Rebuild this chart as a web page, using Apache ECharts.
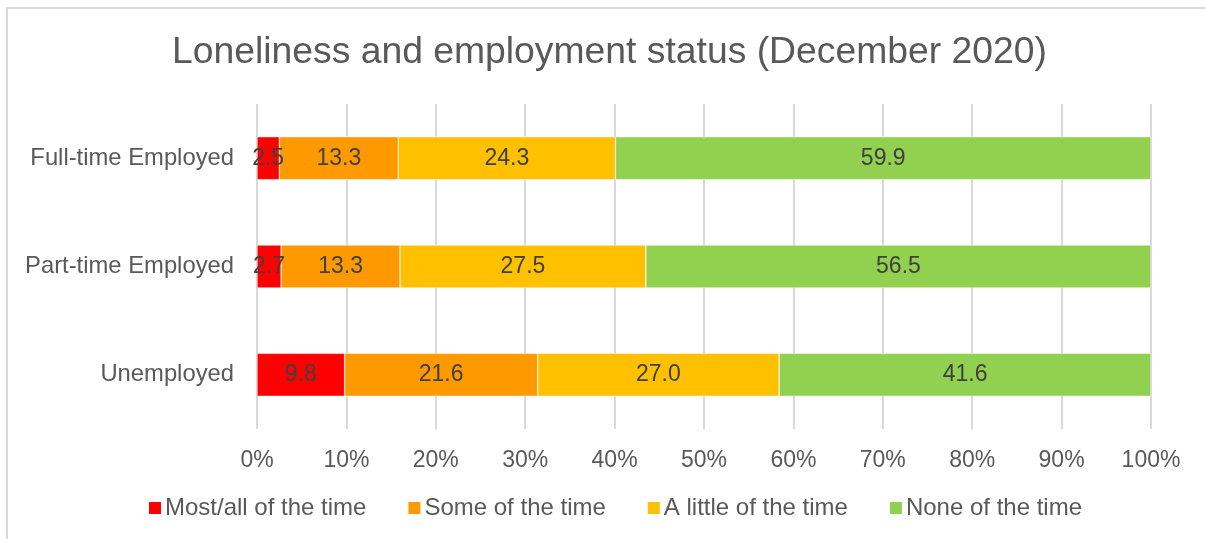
<!DOCTYPE html>
<html>
<head>
<meta charset="utf-8">
<script src="https://cdn.jsdelivr.net/npm/echarts@6/dist/echarts.min.js"></script>
<style>
html,body{margin:0;padding:0;background:#fff;}
#chart{width:1205px;height:539px;}
</style>
</head>
<body>
<div id="chart"></div>
<script>
const categories = ['Full-time Employed', 'Part-time Employed', 'Unemployed'];
const seriesNames = ['Most/all of the time', 'Some of the time', 'A little of the time', 'None of the time'];
const mostAll = [2.5, 2.7, 9.8];
const someTime = [13.3, 13.3, 21.6];
const littleTime = [24.3, 27.5, 27.0];
const noneTime = [59.9, 56.5, 41.6];
const xTicks = [0, 10, 20, 30, 40, 50, 60, 70, 80, 90, 100];
const colors = ['#FF0000', '#FF9900', '#FFC000', '#92D050'];

const font = '"Liberation Sans", Arial, sans-serif';
const chart = echarts.init(document.getElementById('chart'), null, {renderer: 'canvas'});
const values = [mostAll, someTime, littleTime, noneTime];

chart.setOption({
  animation: false,
  backgroundColor: '#fff',
  graphic: [{
    type: 'rect',
    shape: {x: 7, y: 8, width: 1220, height: 560},
    style: {fill: 'none', stroke: '#d9d9d9', lineWidth: 2},
    silent: true
  }],
  title: {
    text: 'Loneliness and employment status (December 2020)',
    left: 172,
    top: 34,
    padding: 0,
    textStyle: {fontFamily: font, fontSize: 37.3, fontWeight: 'normal', color: '#595959'}
  },
  legend: {
    data: seriesNames,
    bottom: 14,
    left: 142,
    itemWidth: 14,
    itemHeight: 14,
    itemGap: 40,
    icon: 'rect',
    textStyle: {fontFamily: font, fontSize: 24, color: '#595959', padding: [0, 0, 0, -2]}
  },
  grid: {left: 257, right: 54, top: 104, bottom: 110, containLabel: false},
  xAxis: {
    type: 'value',
    min: 0,
    max: 100,
    interval: 10,
    axisLine: {show: false},
    axisTick: {show: false},
    splitLine: {lineStyle: {color: '#d9d9d9', width: 2}},
    axisLabel: {
      fontFamily: font, fontSize: 23, color: '#595959', margin: 20,
      formatter: v => xTicks.includes(v) ? v + '%' : ''
    }
  },
  yAxis: {
    type: 'category',
    data: categories,
    inverse: true,
    axisLine: {show: false},
    axisTick: {show: false},
    axisLabel: {fontFamily: font, fontSize: 23.8, color: '#595959', margin: 23}
  },
  series: seriesNames.map((name, i) => ({
    name: name,
    type: 'bar',
    stack: 'total',
    barWidth: 43,
    data: values[i],
    itemStyle: {color: colors[i], borderColor: '#fff', borderWidth: 0.5},
    label: {
      show: true,
      position: 'inside',
      fontFamily: font,
      fontSize: 23,
      color: '#404040',
      formatter: p => p.value.toFixed(1)
    }
  }))
});
</script>
</body>
</html>
